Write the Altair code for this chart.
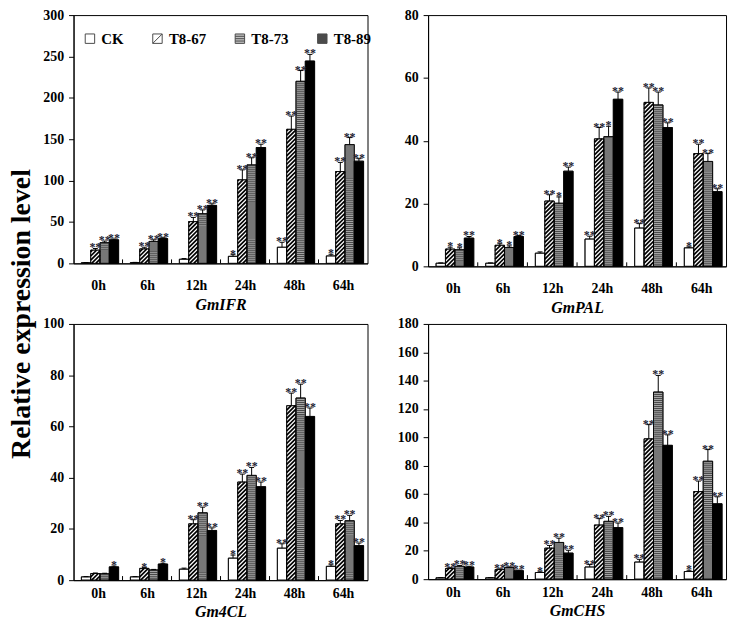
import altair as alt
import pandas as pd

times = ["0h", "6h", "12h", "24h", "48h", "64h"]
series = ["CK", "T8-67", "T8-73", "T8-89"]
genes = ["GmIFR", "GmPAL", "Gm4CL", "GmCHS"]

# ---- values (mean) ----
ifr_ck = [0.8, 1.0, 5.0, 8.5, 19.5, 9.0]
ifr_67 = [16.0, 17.5, 50.5, 101.0, 162.0, 111.0]
ifr_73 = [25.0, 26.5, 60.0, 119.0, 220.0, 143.5]
ifr_89 = [28.5, 30.0, 70.0, 140.0, 244.5, 123.5]
pal_ck = [1.0, 1.0, 4.2, 8.7, 12.2, 5.9]
pal_67 = [5.5, 6.7, 20.8, 40.6, 52.2, 35.9]
pal_73 = [5.3, 6.0, 20.1, 41.3, 51.4, 33.4]
pal_89 = [9.0, 9.5, 30.3, 53.2, 44.2, 23.8]
cl_ck = [1.3, 1.3, 4.3, 8.6, 12.5, 5.4]
cl_67 = [2.6, 4.6, 22.0, 38.3, 68.1, 22.0]
cl_73 = [2.5, 4.0, 26.3, 40.9, 71.1, 23.2]
cl_89 = [5.2, 6.3, 19.4, 36.5, 63.9, 13.5]
chs_ck = [1.0, 1.0, 4.7, 8.6, 12.1, 5.4]
chs_67 = [7.5, 6.8, 21.9, 38.2, 99.0, 61.8]
chs_73 = [9.1, 8.2, 25.9, 40.8, 132.0, 83.2]
chs_89 = [8.6, 6.0, 18.4, 36.4, 94.4, 53.2]

# ---- error (SD, upper only) ----
ifr_ck_e = [0.2, 0.2, 0.8, 2.0, 6.0, 2.0]
ifr_67_e = [2.0, 2.0, 5.0, 12.0, 16.0, 11.0]
ifr_73_e = [2.0, 2.0, 4.6, 8.6, 13.0, 8.5]
ifr_89_e = [1.0, 1.0, 2.0, 4.0, 8.0, 3.0]
pal_ck_e = [0.1, 0.1, 0.4, 0.9, 1.4, 0.3]
pal_67_e = [0.6, 0.5, 2.0, 3.6, 4.6, 3.0]
pal_73_e = [0.6, 0.5, 2.0, 3.3, 4.1, 2.5]
pal_89_e = [0.5, 0.3, 1.3, 2.3, 1.5, 0.9]
cl_ck_e = [0.1, 0.1, 0.4, 1.2, 1.7, 0.6]
cl_67_e = [0.2, 0.3, 1.6, 3.1, 4.9, 1.3]
cl_73_e = [0.2, 0.2, 2.2, 3.1, 5.4, 2.1]
cl_89_e = [0.3, 0.3, 1.0, 1.8, 3.3, 1.0]
chs_ck_e = [0.1, 0.1, 0.5, 1.7, 1.9, 0.9]
chs_67_e = [0.6, 0.5, 1.9, 4.5, 10.0, 7.4]
chs_73_e = [0.6, 0.5, 3.0, 3.5, 11.7, 8.2]
chs_89_e = [0.5, 0.4, 2.0, 3.2, 7.4, 4.9]

# ---- significance marks ----
ifr_ck_s = ["", "", "", "*", "**", "*"]
ifr_67_s = ["**", "**", "**", "**", "**", "**"]
ifr_73_s = ["**", "**", "**", "**", "**", "**"]
ifr_89_s = ["**", "**", "**", "**", "**", "**"]
pal_ck_s = ["", "", "", "**", "**", "*"]
pal_67_s = ["*", "*", "**", "**", "**", "**"]
pal_73_s = ["*", "*", "*", "*", "**", "**"]
pal_89_s = ["**", "**", "**", "**", "**", "**"]
cl_ck_s = ["", "", "", "*", "**", "*"]
cl_67_s = ["", "*", "**", "**", "**", "**"]
cl_73_s = ["", "", "**", "**", "**", "**"]
cl_89_s = ["*", "*", "**", "**", "**", "**"]
chs_ck_s = ["", "", "*", "**", "**", "*"]
chs_67_s = ["**", "**", "**", "**", "**", "**"]
chs_73_s = ["**", "**", "**", "**", "**", "**"]
chs_89_s = ["**", "**", "**", "**", "**", "**"]

y_max = {"GmIFR": 300, "GmPAL": 80, "Gm4CL": 100, "GmCHS": 180}
y_step = {"GmIFR": 50, "GmPAL": 20, "Gm4CL": 20, "GmCHS": 20}

table = {
    "GmIFR": [(ifr_ck, ifr_ck_e, ifr_ck_s), (ifr_67, ifr_67_e, ifr_67_s),
              (ifr_73, ifr_73_e, ifr_73_s), (ifr_89, ifr_89_e, ifr_89_s)],
    "GmPAL": [(pal_ck, pal_ck_e, pal_ck_s), (pal_67, pal_67_e, pal_67_s),
              (pal_73, pal_73_e, pal_73_s), (pal_89, pal_89_e, pal_89_s)],
    "Gm4CL": [(cl_ck, cl_ck_e, cl_ck_s), (cl_67, cl_67_e, cl_67_s),
              (cl_73, cl_73_e, cl_73_s), (cl_89, cl_89_e, cl_89_s)],
    "GmCHS": [(chs_ck, chs_ck_e, chs_ck_s), (chs_67, chs_67_e, chs_67_s),
              (chs_73, chs_73_e, chs_73_s), (chs_89, chs_89_e, chs_89_s)],
}

rows = []
for g in genes:
    for si, (vals, errs, sigs) in enumerate(table[g]):
        for ti, t in enumerate(times):
            rows.append({"gene": g, "time": t, "ti": ti, "series": series[si],
                         "si": si, "value": vals[ti], "err": errs[ti], "sig": sigs[ti]})
df = pd.DataFrame(rows)

FONT = "Liberation Serif"
BW = 0.19       # bar width in category units
SHIFT = 0.04
fill_range = ["#ffffff", "#ffffff", "#a4a4a4", "#000000"]
shape_range = [
    "M-1,-1H1V1H-1Z",
    "M-1,-1H1V1H-1Z M-1,1L1,-1",
    "M-1,-1H1V1H-1Z M-1,-0.5H1 M-1,0H1 M-1,0.5H1",
    "M-1,-1H1V1H-1Z",
]
label_expr = "[" + ",".join("'%s'" % t for t in times) + "][datum.value]"
xscale = alt.Scale(domain=[-0.5, len(times) - 0.5], nice=False, zero=False)


def panel(gene, W, H, lx, ly, colpad, lpad):
    ymax = y_max[gene]
    kx = W / len(times)
    ky = H / ymax
    bwpx = BW * kx
    d = 4.2
    yvals = list(range(0, ymax + 1, y_step[gene]))
    yscale = alt.Scale(domain=[0, ymax], nice=False)
    base = alt.Chart(df).transform_filter(alt.datum.gene == gene).transform_calculate(
        xl=f"datum.ti - {2 * BW} + {SHIFT} + datum.si * {BW}",
    ).transform_calculate(
        xr=f"datum.xl + {BW}",
        xc=f"datum.xl + {BW / 2}",
        top="datum.value + datum.err",
    ).transform_calculate(
        cl="datum.xc - 0.05", cr="datum.xc + 0.05",
    )
    leg = alt.Legend(orient="none", legendX=lx, legendY=ly, direction="horizontal",
                     columns=4, title=None, labelFont=FONT, labelFontSize=15,
                     labelFontWeight="bold", labelColor="black", symbolSize=90,
                     symbolStrokeColor="black", symbolStrokeWidth=1,
                     columnPadding=colpad, labelOffset=4, padding=0)
    fill_enc = alt.Fill("series:N", scale=alt.Scale(domain=series, range=fill_range), legend=leg)
    xaxis = alt.Axis(values=list(range(len(times))), labelExpr=label_expr, tickSize=0,
                     labelPadding=lpad, title=gene, titleFontStyle="italic",
                     titleFont=FONT, titleFontSize=16, titleFontWeight="bold",
                     titlePadding=4, grid=False, labelFont=FONT, labelFontSize=14,
                     labelFontWeight="bold", labelColor="black", domainColor="black",
                     labelOverlap=False)
    yaxis = alt.Axis(values=yvals, tickCount=len(yvals), title=None, grid=False,
                     tickSize=5, labelPadding=5, labelFont=FONT, labelFontSize=14,
                     labelFontWeight="bold", labelColor="black", domainColor="black",
                     tickColor="black", labelOverlap=False, labelSeparation=0)

    def X(f):
        return alt.X(f, scale=xscale, axis=xaxis)

    def Y(f):
        return alt.Y(f, scale=yscale, axis=yaxis)

    bars = base.mark_bar(stroke="black", strokeWidth=0.8).encode(
        x=X("xl:Q"), x2="xr:Q", y=Y("value:Q"), y2=alt.datum(0), fill=fill_enc,
    )
    legend_pts = base.transform_filter("false").mark_point(filled=True).encode(
        x=X("xc:Q"), y=Y("value:Q"),
        fill=fill_enc,
        shape=alt.Shape("series:N", scale=alt.Scale(domain=series, range=shape_range), legend=leg),
        stroke=alt.value("black"),
    )
    stripes = base.transform_filter(alt.datum.series == "T8-73").mark_rule(
        color="#4a4a4a", strokeWidth=bwpx - 1.2, strokeDash=[1, 1], strokeCap="butt"
    ).encode(x=X("xc:Q"), y=Y("value:Q"), y2=alt.datum(0))
    hatch = base.transform_filter(alt.datum.series == "T8-67").transform_calculate(
        h=f"datum.value * {ky}",
    ).transform_calculate(
        ks=f"sequence(0, ceil((datum.h + {bwpx}) / {d}) + 1)",
    ).transform_flatten(["ks"], as_=["k"]).transform_calculate(
        c=f"datum.k * {d} - {bwpx}",
    ).transform_calculate(
        u0="max(0, -datum.c)",
        u1=f"min({bwpx}, datum.h - datum.c)",
    ).transform_filter("datum.u1 > datum.u0 + 0.3").transform_calculate(
        hx1=f"datum.xl + datum.u0 / {kx}",
        hy1=f"(datum.u0 + datum.c) / {ky}",
        hx2=f"datum.xl + datum.u1 / {kx}",
        hy2=f"(datum.u1 + datum.c) / {ky}",
    ).mark_rule(color="black", strokeWidth=1.7, strokeCap="butt").encode(
        x=X("hx1:Q"), x2="hx2:Q", y=Y("hy1:Q"), y2="hy2:Q",
    )
    outline = base.mark_bar(fillOpacity=0, stroke="black", strokeWidth=0.8).encode(
        x=X("xl:Q"), x2="xr:Q", y=Y("value:Q"), y2=alt.datum(0),
    )
    err = base.mark_rule(color="black", strokeWidth=1).encode(
        x=X("xc:Q"), y=Y("value:Q"), y2="top:Q",
    )
    caps = base.mark_rule(color="black", strokeWidth=1).encode(
        x=X("cl:Q"), x2="cr:Q", y=Y("top:Q"),
    )
    stars = base.mark_text(font=FONT, fontSize=12, fontWeight="bold", color="#202030",
                           baseline="alphabetic", dy=3).encode(
        x=X("xc:Q"), y=Y("top:Q"), text="sig:N",
    )
    bticks = base.transform_filter(alt.datum.si == 0).transform_filter(
        alt.datum.ti < len(times) - 1
    ).transform_calculate(xb="datum.ti + 0.5", yb="0", yt=f"{ymax * 0.016}").mark_rule(
        color="black", strokeWidth=1
    ).encode(
        x=X("xb:Q"), y=Y("yb:Q"), y2="yt:Q",
    )
    return alt.layer(bars, hatch, stripes, outline, err, caps, stars, bticks, legend_pts).properties(
        width=W, height=H
    )


p1 = panel("GmIFR", 296, 250, 9, 16, 26, 15)
p2 = panel("GmPAL", 300, 253, 27, 24, 18, 15)
p3 = panel("Gm4CL", 296, 258, 12, 22, 26, 6)
p4 = panel("GmCHS", 300, 257, 15, 15, 24, 6)

chart = alt.concat(p1, p2, p3, p4, columns=2, spacing={"row": 0, "column": 28}).properties(
    title=alt.TitleParams("Relative expression level", orient="left", anchor="middle",
                          font=FONT, fontSize=28, fontWeight="bold", color="black", offset=6),
    padding={"left": 0, "top": -3, "right": 2, "bottom": 2},
    background="white",
).configure_view(stroke="black", strokeWidth=1).configure_axis(labelOverlap=False)

chart.save("out.html", embed_options={"renderer": "svg", "actions": False})
